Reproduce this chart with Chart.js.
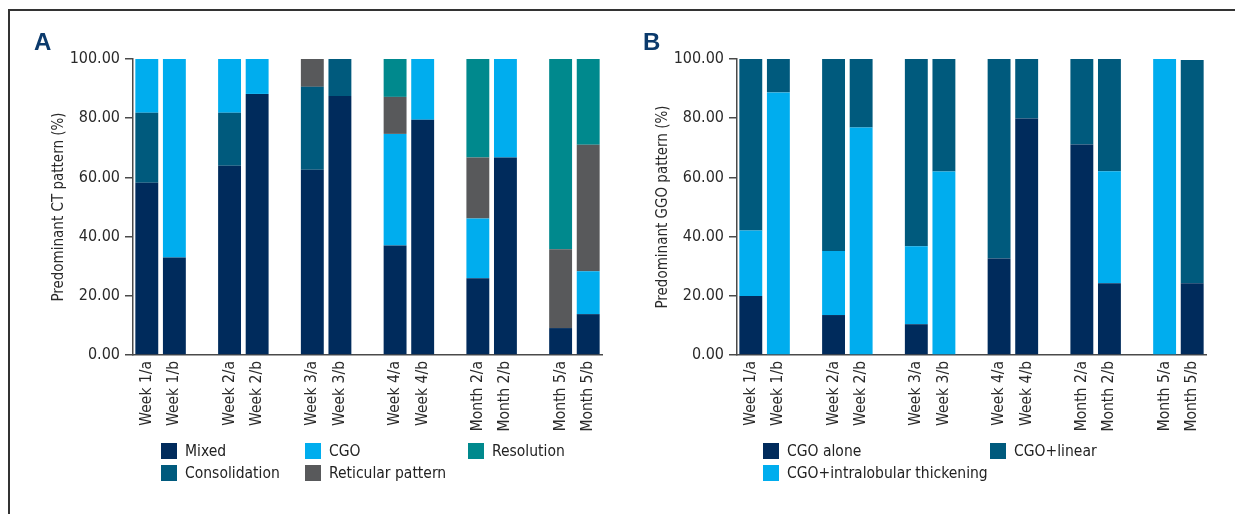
<!DOCTYPE html>
<html>
<head>
<meta charset="utf-8">
<script src="https://cdn.jsdelivr.net/npm/chart.js@4.4.1/dist/chart.umd.min.js"></script>
<style>
  body { margin: 0; background: #fff; font-family: 'Liberation Sans Narrow', 'DejaVu Sans Condensed', sans-serif; }
  #wrap { position: relative; width: 1235px; height: 514px; overflow: hidden; }
  .frame { position: absolute; left: 8px; top: 9px; right: 0; bottom: 0; border-top: 2px solid #333; border-left: 2px solid #333; }
  .panel { position: absolute; top: 0; width: 604px; height: 514px; }
  .letter { position: absolute; top: 28px; font: bold 24px 'Liberation Sans', Arial, sans-serif; color: #0b3a6c; }
  .legend { position: absolute; top: 440px; display: grid; grid-auto-flow: column; grid-template-rows: 22px 22px; font-size: 15.5px; color: #222; }
  .legend .item { display: flex; align-items: center; height: 22px; white-space: nowrap; }
  .legend .sw { width: 16px; height: 16px; margin-right: 8px; flex-shrink: 0; }
</style>
</head>
<body>
<div id="wrap">
  <div class="frame"></div>
  <div class="panel" style="left:0"><canvas id="chartA" width="604" height="514"></canvas></div>
  <div class="panel" style="left:604px"><canvas id="chartB" width="604" height="514"></canvas></div>
  <div class="letter" style="left:34px">A</div>
  <div class="letter" style="left:643px">B</div>
  <div class="legend" id="legendA" style="left:161px; grid-template-columns: 144px 163px 120px;"></div>
  <div class="legend" id="legendB" style="left:763px; grid-template-columns: 227px 200px;"></div>
</div>
<script>
// ========== DATA ==========
// blank labels are the gaps between time points
const labels = ['Week 1/a', 'Week 1/b', '', 'Week 2/a', 'Week 2/b', '', 'Week 3/a', 'Week 3/b', '',
  'Week 4/a', 'Week 4/b', '', 'Month 2/a', 'Month 2/b', '', 'Month 5/a', 'Month 5/b'];

// panel A - predominant CT pattern (%)
const mixed         = [58.2, 32.9, null, 63.9, 88.2, null, 62.6, 87.5, null, 37.0, 79.5, null, 25.9, 66.7, null, 9.1, 13.8];
const consolidation = [23.6, 0,    null, 17.9, 0,    null, 28.0, 12.5, null, 0,    0,    null, 0,    0,    null, 0,   0];
const cgoA          = [18.2, 67.1, null, 18.2, 11.8, null, 0,    0,    null, 37.7, 20.5, null, 20.2, 33.3, null, 0,   14.5];
const reticular     = [0,    0,    null, 0,    0,    null, 9.4,  0,    null, 12.5, 0,    null, 20.6, 0,    null, 26.6, 42.7];
const resolution    = [0,    0,    null, 0,    0,    null, 0,    0,    null, 12.8, 0,    null, 33.3, 0,    null, 64.3, 29.0];

// panel B - predominant GGO pattern (%)
const cgoAlone      = [19.9, 0,    null, 13.5, 0,    null, 10.4, 0,    null, 32.6, 79.9, null, 71.1, 24.2, null, 0,   24.2];
const cgoIntra      = [22.2, 88.7, null, 21.6, 76.9, null, 26.3, 62.0, null, 0,    0,    null, 0,    37.9, null, 100, 0];
const cgoLinear     = [57.9, 11.3, null, 64.9, 23.1, null, 63.3, 38.0, null, 67.4, 20.1, null, 28.9, 37.9, null, 0,   75.5];

const yTicks = [0, 20, 40, 60, 80, 100];

const NAVY = '#002b5c', PETROL = '#005a7d', SKY = '#00adee', GREY = '#58595b', TEAL = '#00898d';

const seriesA = [
  { label: 'Mixed', data: mixed, color: NAVY },
  { label: 'Consolidation', data: consolidation, color: PETROL },
  { label: 'CGO', data: cgoA, color: SKY },
  { label: 'Reticular pattern', data: reticular, color: GREY },
  { label: 'Resolution', data: resolution, color: TEAL }
];
// legend order (column by column, 2 rows)
const legendOrderA = ['Mixed', 'Consolidation', 'CGO', 'Reticular pattern', 'Resolution'];

const seriesB = [
  { label: 'CGO alone', data: cgoAlone, color: NAVY },
  { label: 'CGO+intralobular thickening', data: cgoIntra, color: SKY },
  { label: 'CGO+linear', data: cgoLinear, color: PETROL }
];
const legendOrderB = ['CGO alone', 'CGO+intralobular thickening', 'CGO+linear'];

// ========== CHART ==========
const FONT = "'Liberation Sans Narrow', 'DejaVu Sans Condensed', sans-serif";

function makeChart(id, series, yTitle) {
  const ctx = document.getElementById(id).getContext('2d');
  return new Chart(ctx, {
    type: 'bar',
    data: {
      labels,
      datasets: series.map(s => ({
        label: s.label,
        data: s.data,
        backgroundColor: s.color,
        borderWidth: 0,
        barPercentage: 0.83,
        categoryPercentage: 1
      }))
    },
    options: {
      responsive: false,
      animation: false,
      events: [],
      layout: { padding: { top: 59, left: 50, right: 2, bottom: 0 } },
      plugins: { legend: { display: false }, tooltip: { enabled: false } },
      scales: {
        x: {
          stacked: true,
          grid: { display: false, drawTicks: false },
          border: { display: true, color: '#4a4a4a', width: 1.5 },
          ticks: {
            autoSkip: false, maxRotation: 90, minRotation: 90, padding: 6,
            color: '#2a2a2a', font: { family: FONT, size: 15.5 }
          },
          // fixed height, and no extra side room for the rotated end labels
          afterFit: s => { s.height = 514 - 355; s.paddingLeft = 0; s.paddingRight = 0; }
        },
        y: {
          stacked: true,
          min: 0, max: 100,
          afterBuildTicks: s => { s.ticks = yTicks.map(v => ({ value: v })); },
          grid: { drawOnChartArea: false, drawTicks: true, tickLength: 8, color: '#4a4a4a', lineWidth: 1.5 },
          border: { display: true, color: '#4a4a4a', width: 1.5 },
          ticks: {
            padding: 5, color: '#2a2a2a', font: { family: FONT, size: 16 },
            callback: v => v.toFixed(2)
          },
          title: { display: true, text: yTitle, color: '#2a2a2a', font: { family: FONT, size: 15 }, padding: { top: 0, bottom: 6 } },
          afterFit: s => { s.width = 83; }
        }
      }
    }
  });
}

function buildLegend(id, series, order) {
  const box = document.getElementById(id);
  box.innerHTML = order.map(name => {
    const s = series.find(x => x.label === name);
    return `<div class="item"><span class="sw" style="background:${s.color}"></span>${s.label}</div>`;
  }).join('');
}

makeChart('chartA', seriesA, 'Predominant CT pattern (%)');
makeChart('chartB', seriesB, 'Predominant GGO pattern (%)');
buildLegend('legendA', seriesA, legendOrderA);
buildLegend('legendB', seriesB, legendOrderB);
</script>
</body>
</html>
